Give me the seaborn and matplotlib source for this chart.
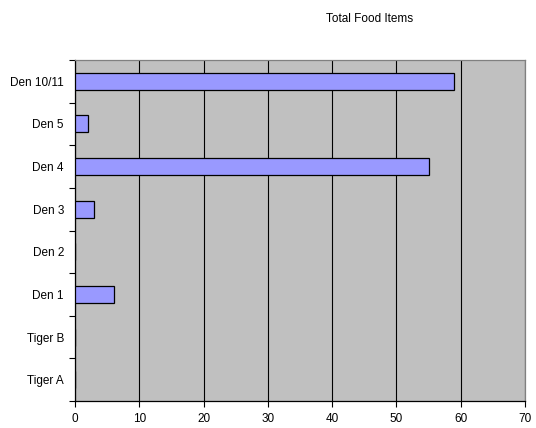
import matplotlib
matplotlib.use('Agg')
import matplotlib.pyplot as plt
import seaborn as sns
import pandas as pd
import numpy as np

# data (top to bottom as shown)
sites = ['Den 10/11', 'Den 5', 'Den 4', 'Den 3', 'Den 2', 'Den 1', 'Tiger B', 'Tiger A']
food_items = [59, 2, 55, 3, 0, 6, 0, 0]
x_ticks = [0, 10, 20, 30, 40, 50, 60, 70]

sns.set_theme(style='white')
plt.rcParams['font.family'] = ['Liberation Sans', 'DejaVu Sans']
plt.rcParams['text.color'] = 'black'
plt.rcParams['xtick.color'] = 'black'
plt.rcParams['ytick.color'] = 'black'

df = pd.DataFrame({'site': sites, 'items': food_items})

fig = plt.figure(figsize=(5.36, 4.28), dpi=100)
ax = fig.add_axes([75 / 536, 1 - 401 / 428, 450 / 536, 341 / 428])
ax.set_facecolor('#C0C0C0')

sns.barplot(data=df, y='site', x='items', order=sites, orient='h',
            color='#9999FF', edgecolor='black', linewidth=0.9,
            width=0.4, saturation=1, ax=ax, zorder=3)

ax.set_xlim(0, 70)
ax.set_ylim(len(sites) - 0.5, -0.5)
ax.set_xticks(x_ticks)
ax.set_xticklabels([str(t) for t in x_ticks], fontsize=8.5)
ax.xaxis.grid(True, color='black', linewidth=0.8, zorder=1)
ax.set_axisbelow(True)

ax.set_yticks(range(len(sites)))
ax.set_yticklabels(sites, fontsize=8.5)
ax.set_yticks(np.arange(-0.5, len(sites), 1), minor=True)
ax.tick_params(axis='y', which='major', length=0, pad=8)
ax.tick_params(axis='y', which='minor', length=4, width=0.8, color='black', direction='out', left=True)
ax.tick_params(axis='x', length=4, width=0.8, color='black', direction='out', bottom=True, pad=5)

ax.set_xlabel('')
ax.set_ylabel('')
for s in ['left', 'bottom']:
    ax.spines[s].set_color('black')
    ax.spines[s].set_linewidth(0.9)
for s in ['top', 'right']:
    ax.spines[s].set_color('#808080')
    ax.spines[s].set_linewidth(0.9)

fig.text(370 / 536, 1 - 19 / 428, 'Total Food Items', ha='center', va='center', fontsize=8.5)

fig.savefig('out.png', dpi=100)
